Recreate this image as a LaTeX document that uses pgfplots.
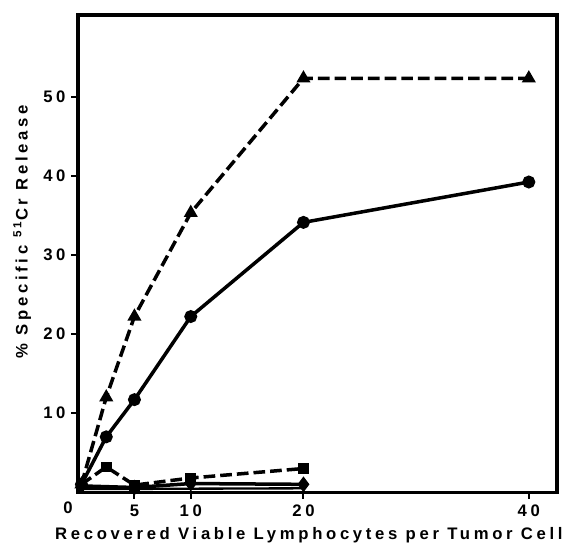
\documentclass[border=0pt]{standalone}
\usepackage{fontspec}
\setmainfont{Liberation Sans}[LetterSpace=22]
\usepackage{pgfplots}
\pgfplotsset{compat=1.18}

\begin{document}
\fontsize{10}{12}\selectfont
\begin{tikzpicture}
% page = 566 x 545 px at 0.6pt per px, axis box at (78,15)-(557,492)
\useasboundingbox (-46.8pt,-31.8pt) rectangle (292.4pt,295pt);
\begin{axis}[
    scale only axis,
    width=287pt, height=286pt,
    xmin=0, xmax=42.5, ymin=0, ymax=60.3,
    axis line style={line width=2pt},
    xtick={5,10,20,40}, ytick={10,20,30,40,50},
    xtick pos=bottom, ytick pos=left,
    tick align=outside, major tick length=4pt,
    tick style={line width=1.2pt, black},
    ticklabel style={font=\fontsize{10}{12}\selectfont\bfseries},
    /pgf/number format/assume math mode=true,
    extra x ticks={0},
    extra x tick style={major tick length=0pt, xticklabel style={xshift=-6pt, yshift=-2pt}},
    xlabel={\bfseries Recovered Viable Lymphocytes per Tumor Cell},
    ylabel={\bfseries \% Specific \textsuperscript{51}Cr Release},
    xlabel style={at={(axis description cs:0.482,-0.1)}, anchor=base, font=\fontsize{10}{12}\selectfont},
    ylabel style={at={(axis description cs:-0.086,0.546)}, anchor=south, font=\fontsize{10}{12}\selectfont},
    every axis plot/.append style={line width=2.1pt, black},
]
% triangles, dashed
\addplot[dash pattern=on 7pt off 3pt, mark=triangle*, mark size=2.8pt, mark options={solid}]
  coordinates {(0.3,1) (2.5,12) (5,22.2) (10,35.3) (20,52.3) (40,52.3)};
% circles, solid
\addplot[mark=*, mark size=2.8pt]
  coordinates {(0.3,1) (2.5,7) (5,11.7) (10,22.2) (20,34.1) (40,39.2)};
% squares, dashed
\addplot[dash pattern=on 7pt off 3pt, mark=square*, mark size=2.2pt, mark options={solid}]
  coordinates {(0.3,1) (2.5,3.2) (5,0.9) (10,1.8) (20,3.0)};
% diamonds, solid
\addplot[mark=diamond*, mark size=3pt]
  coordinates {(0.3,0.8) (5,0.6) (10,1.1) (20,1.0)};
% low solid line
\addplot[line width=1.4pt]
  coordinates {(0.3,0.4) (20,0.5)};
\end{axis}
\end{tikzpicture}
\end{document}
